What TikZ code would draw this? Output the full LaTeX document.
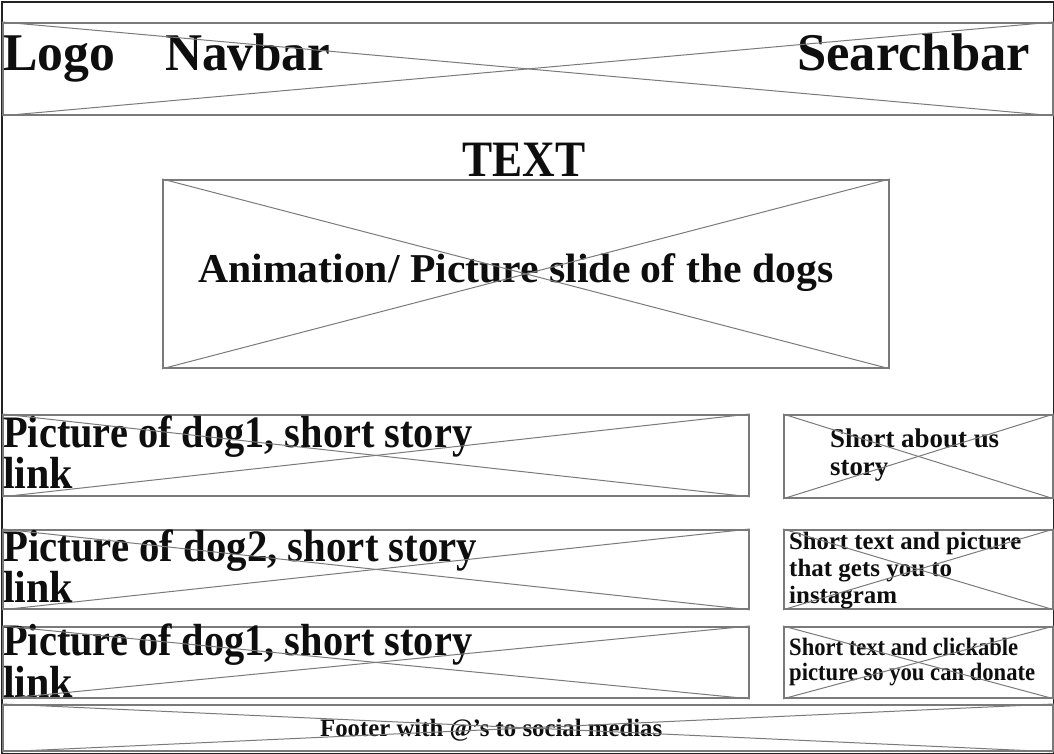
\documentclass[tikz,border=0pt]{standalone}
\usepackage{fontspec}
\setmainfont{Liberation Serif}
\usepackage{graphicx}
\newcommand\fw[3]{\resizebox{#1pt}{\height}{\fontsize{#2}{#2}\selectfont\bfseries #3}}
\definecolor{boxgray}{HTML}{7A7A7A}
\definecolor{ink}{HTML}{0E0E0E}
\definecolor{frame}{HTML}{222222}
\tikzset{
  wbox/.style={draw=boxgray, line width=1.8pt, inner sep=0pt, anchor=north west},
  xline/.style={draw=boxgray, line width=1pt},
  lbl/.style={inner sep=0pt, anchor=base west, text=ink},
}
\begin{document}
\begin{tikzpicture}[x=1pt,y=-1pt]
\useasboundingbox (0,0) rectangle (1054,754);
% outer frame
\node[draw=frame, line width=2.2pt, inner sep=0pt, anchor=north west, minimum width=1052pt, minimum height=752pt] (page) at (1,1) {};
% boxes
\node[wbox, minimum width=1050pt, minimum height=92pt] (hdr) at (2,22) {};
\node[wbox, minimum width=726pt, minimum height=188pt] (anim) at (162,179) {};
\node[wbox, minimum width=746pt, minimum height=81pt] (r1l) at (2,414) {};
\node[wbox, minimum width=269pt, minimum height=83pt] (r1r) at (783,414) {};
\node[wbox, minimum width=746pt, minimum height=79pt] (r2l) at (2,529) {};
\node[wbox, minimum width=269pt, minimum height=79pt] (r2r) at (783,529) {};
\node[wbox, minimum width=746pt, minimum height=71pt] (r3l) at (2,626) {};
\node[wbox, minimum width=269pt, minimum height=71pt] (r3r) at (783,626) {};
\node[wbox, minimum width=1050pt, minimum height=46pt] (ftr) at (2,704) {};
% texts
\node[lbl] (tlogo) at (3,71) {\fw{112}{53}{Logo}};
\node[lbl] (tnav) at (165,71) {\fw{165}{53}{Navbar}};
\node[lbl] (tsearch) at (797,71) {\fw{233}{53}{Searchbar}};
\node[lbl] (ttext) at (462,177) {\fw{123}{51}{TEXT}};
\node[lbl] (tanim) at (198,282) {\fw{635}{41}{Animation/ Picture slide of the dogs}};
\node[lbl] (t1a) at (3,447) {\fw{469}{45}{Picture of dog1, short story}};
\node[lbl] (t1b) at (3,488) {\fw{70}{45}{link}};
\node[lbl] (t2a) at (3,561) {\fw{474}{45}{Picture of dog2, short story}};
\node[lbl] (t2b) at (3,602) {\fw{70}{45}{link}};
\node[lbl] (t3a) at (3,655) {\fw{469}{45}{Picture of dog1, short story}};
\node[lbl] (t3b) at (3,697) {\fw{70}{45}{link}};
\node[lbl] (s1a) at (830,447) {\fw{169}{27}{Short about us}};
\node[lbl] (s1b) at (830,475) {\fw{58}{27}{story}};
\node[lbl] (s2a) at (789,549) {\fw{232}{25}{Short text and picture}};
\node[lbl] (s2b) at (789,576) {\fw{163}{25}{that gets you to}};
\node[lbl] (s2c) at (789,603) {\fw{108}{25}{instagram}};
\node[lbl] (s3a) at (789,655) {\fw{229}{25}{Short text and clickable}};
\node[lbl] (s3b) at (789,680) {\fw{246}{25}{picture so you can donate}};
\node[lbl] (tftr) at (320,736) {\fw{342}{25}{Footer with @’s to social medias}};
% crosses
\foreach \b in {hdr,anim,r1l,r1r,r2l,r2r,r3l,r3r,ftr}{
  \draw[xline] (\b.north west) -- (\b.south east);
  \draw[xline] (\b.south west) -- (\b.north east);
}
\end{tikzpicture}
\end{document}
